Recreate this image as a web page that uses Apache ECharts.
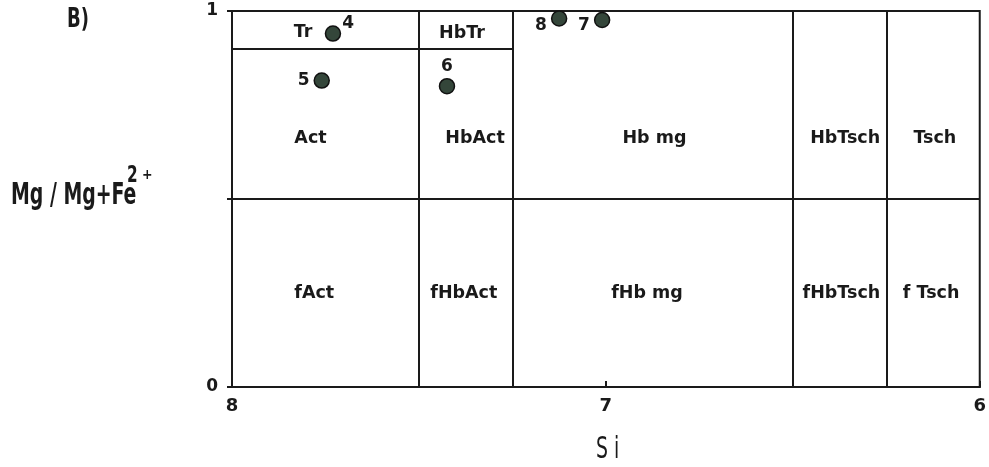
<!DOCTYPE html>
<html>
<head>
<meta charset="utf-8">
<script src="https://cdn.jsdelivr.net/npm/echarts@6/dist/echarts.min.js"></script>
<style>
  html, body { margin: 0; padding: 0; background: #fff; }
  #chart { width: 989px; height: 467px; }
</style>
</head>
<body>
<div id="chart"></div>
<script>
// muestras (numero, Si, Mg/Mg+Fe2+)
var samples = ['4', '5', '6', '7', '8'];
var siVals = [7.73, 7.76, 7.425, 7.01, 7.125];
var mgVals = [0.94, 0.815, 0.80, 0.976, 0.98];

// campos del diagrama
var fields = ['Tr', 'HbTr', 'Act', 'HbAct', 'Hb mg', 'HbTsch', 'Tsch',
              'fAct', 'fHbAct', 'fHb mg', 'fHbTsch', 'f Tsch'];
var fieldSi = [7.81, 7.385, 7.79, 7.35, 6.87, 6.36, 6.12, 7.78, 7.38, 6.89, 6.37, 6.13];
var fieldMg = [0.944, 0.94, 0.66, 0.66, 0.66, 0.66, 0.66, 0.25, 0.25, 0.25, 0.25, 0.25];

// limites
var siBounds = [7.5, 7.25, 6.5, 6.25];
var mgBound = 0.5;
var trBound = 0.9;
var trFrom = 8, trTo = 7.25;
var xTicks = [8, 7, 6];
var yTicks = [0, 1];

var ink = '#1a1a1a';
var cond = '"DejaVu Sans Condensed", "DejaVu Sans"';
var chart = echarts.init(document.getElementById('chart'));

var lines = siBounds.map(function (s) {
  return [{ coord: [s, 0] }, { coord: [s, 1] }];
});
lines.push([{ coord: [8, mgBound] }, { coord: [6, mgBound] }]);
lines.push([{ coord: [trFrom, trBound] }, { coord: [trTo, trBound] }]);

var labelPos = {
  '4': { position: 'right', offset: [-3, -10] },
  '5': { position: 'left', offset: [0, 0] },
  '6': { position: 'top', offset: [0, 1] },
  '7': { position: 'left', offset: [0, 6] },
  '8': { position: 'left', offset: [0, 7] }
};

var boldFont = { color: ink, fontFamily: 'DejaVu Sans', fontWeight: 'bold' };

var option = {
  animation: false,
  grid: {
    left: 232, right: 9, top: 11, bottom: 80,
    show: true, borderColor: ink, borderWidth: 2
  },
  xAxis: {
    type: 'value', min: 6, max: 8, interval: 1, inverse: true,
    axisLine: { show: true, lineStyle: { color: ink, width: 2 } },
    axisTick: { show: true, inside: true, length: 6, lineStyle: { color: ink, width: 2 } },
    splitLine: { show: false },
    axisLabel: Object.assign({
      margin: 10, fontSize: 18,
      formatter: function (v) { return xTicks.indexOf(v) >= 0 ? String(v) : ''; }
    }, boldFont)
  },
  yAxis: {
    type: 'value', min: 0, max: 1, interval: 0.5,
    axisLine: { show: true, lineStyle: { color: ink, width: 2 } },
    axisTick: { show: true, length: 5, lineStyle: { color: ink, width: 2 } },
    splitLine: { show: false },
    axisLabel: Object.assign({
      margin: 14, fontSize: 17,
      formatter: function (v) { return yTicks.indexOf(v) >= 0 ? String(v) : ''; }
    }, boldFont)
  },
  graphic: [
    { type: 'text', x: 67, y: 6, scaleY: 1.35,
      style: { text: 'B)', font: 'bold 20px ' + cond, fill: ink } },
    { type: 'text', x: 596, y: 436, scaleY: 1.4,
      style: { text: 'S i', font: '21px ' + cond, fill: ink } },
    { type: 'text', x: 11, y: 181, scaleY: 1.45,
      style: { text: 'Mg / Mg+Fe', font: 'bold 21px ' + cond, fill: ink } },
    { type: 'text', x: 127, y: 164, scaleY: 1.4,
      style: { text: '2', font: 'bold 17px ' + cond, fill: ink } },
    { type: 'text', x: 142, y: 168,
      style: { text: '+', font: 'bold 14px ' + cond, fill: ink } }
  ],
  series: [
    {
      type: 'line', data: [], silent: true,
      markLine: {
        symbol: 'none', silent: true, animation: false,
        label: { show: false },
        lineStyle: { color: ink, width: 2, type: 'solid' },
        data: lines
      }
    },
    {
      type: 'scatter', silent: true,
      symbolSize: 0,
      itemStyle: { opacity: 1 },
      data: fields.map(function (f, i) { return { value: [fieldSi[i], fieldMg[i]], name: f }; }),
      label: Object.assign({
        show: true, position: 'inside', formatter: '{b}', fontSize: 17.5, opacity: 1
      }, boldFont)
    },
    {
      type: 'scatter',
      symbolSize: 15,
      itemStyle: { color: '#34463a', borderColor: '#111', borderWidth: 1.5, opacity: 1 },
      data: samples.map(function (s, i) {
        return {
          value: [siVals[i], mgVals[i]], name: s,
          label: labelPos[s]
        };
      }),
      label: Object.assign({
        show: true, formatter: '{b}', distance: 4, fontSize: 17, opacity: 1
      }, boldFont)
    }
  ]
};

chart.setOption(option);
</script>
</body>
</html>
